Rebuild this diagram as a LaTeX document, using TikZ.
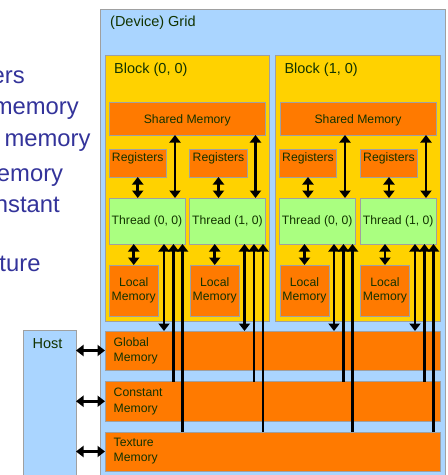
\documentclass[tikz,border=0pt]{standalone}
\usepackage{fontspec}
\setmainfont{Liberation Sans}
\usetikzlibrary{arrows.meta,calc}
\definecolor{GridBlue}{HTML}{AAD5FF}
\definecolor{BlockGold}{HTML}{FFD200}
\definecolor{MemOrange}{HTML}{FF7A00}
\definecolor{ThreadGreen}{HTML}{AAFF80}
\definecolor{Edge}{HTML}{A0A0A0}
\definecolor{LabelInk}{HTML}{123300}
\definecolor{SlideBlue}{HTML}{33339A}
\newcommand{\MemBox}[6]{%
  \node[membox,fill=#2,minimum width={(#5-#3)*1pt},minimum height={(#6-#4)*1pt}] (#1) at ({(#3+#5)/2},{(#4+#6)/2}) {};%
}

\begin{document}
\begin{tikzpicture}[x=1pt,y=-1pt,
  membox/.style={draw=Edge,line width=0.8pt,inner sep=0pt,outer sep=0pt},
  lbl/.style={text=LabelInk,inner sep=0pt,font=\fontsize{12.2}{14}\selectfont},
  title/.style={text=LabelInk,inner sep=0pt,font=\fontsize{14.5}{17}\selectfont},
  side/.style={text=SlideBlue,inner sep=0pt,font=\fontsize{23.8}{28}\selectfont},
  dbl/.style={line width=2.6pt,{Triangle[width=11pt,length=7.5pt]}-{Triangle[width=11pt,length=7.5pt]}},
  uparr/.style={line width=2.6pt,-{Triangle[width=11pt,length=7.5pt]}}]
\useasboundingbox (0,0) rectangle (448,475);
% slide text cut off at the left
\node[side,anchor=base east] (sideA) at (25,83) {ers};
\node[side,anchor=base east] (sideB) at (79,114.5) {memory};
\node[side,anchor=base east] (sideC) at (90.7,146.5) {memory};
\node[side,anchor=base east] (sideD) at (63.3,181) {emory};
\node[side,anchor=base east] (sideE) at (60,212.5) {nstant};
\node[side,anchor=base east] (sideF) at (40.7,271) {ture};
% device grid
\MemBox{grid}{GridBlue}{100}{9}{445}{478}
\MemBox{blockA}{BlockGold}{105}{55}{269}{321}
\MemBox{blockB}{BlockGold}{275.5}{55}{440}{321}
\MemBox{sharedA}{MemOrange}{109}{102}{265.5}{135}
\MemBox{sharedB}{MemOrange}{280}{102}{436}{135}
\MemBox{regAA}{MemOrange}{109}{149}{166.5}{177}
\MemBox{regAB}{MemOrange}{189.5}{149}{247.5}{177}
\MemBox{regBA}{MemOrange}{279.5}{149}{336.5}{177}
\MemBox{regBB}{MemOrange}{360.5}{149}{417.5}{177}
\MemBox{thrAA}{ThreadGreen}{109}{198}{185}{244}
\MemBox{thrAB}{ThreadGreen}{189.5}{198}{265.5}{244}
\MemBox{thrBA}{ThreadGreen}{279.5}{198}{355}{244}
\MemBox{thrBB}{ThreadGreen}{360.5}{198}{436}{244}
\MemBox{locAA}{MemOrange}{109}{265}{158.5}{316.5}
\MemBox{locAB}{MemOrange}{190}{265}{239.5}{316.5}
\MemBox{locBA}{MemOrange}{280}{265}{329}{316.5}
\MemBox{locBB}{MemOrange}{360.5}{265}{409.5}{316.5}
\MemBox{global}{MemOrange}{105}{331}{440}{370}
\MemBox{constant}{MemOrange}{105}{381.5}{440}{421}
\MemBox{texture}{MemOrange}{105}{432}{440}{471}
\MemBox{host}{GridBlue}{23.5}{330}{76}{478}
% labels
\node[title,anchor=west] (gridT) at (110,23) {(Device) Grid};
\node[title,anchor=west] (blockAT) at (114,69.3) {Block (0, 0)};
\node[title,anchor=west] (blockBT) at (284.3,69.3) {Block (1, 0)};
\node[title,anchor=west] (hostT) at (32.5,344) {Host};
\foreach \b in {A,B} {
  \node[lbl] (shared\b T) at ($(shared\b)+(0,1.5)$) {Shared Memory};
  \foreach \t/\i in {A/0,B/1} {
    \node[lbl] (reg\b\t T) at ($(reg\b\t.north)+(0,9)$) {Registers};
    \node[lbl] (thr\b\t T) at (thr\b\t) {Thread (\i, 0)};
    \node[lbl,align=center,font=\fontsize{12.2}{14}\selectfont] (loc\b\t T) at (loc\b\t) {Local\\Memory};
  }
}
\node[lbl,anchor=west,align=left,font=\fontsize{12.2}{15.3}\selectfont] (globalT) at (113.5,350.5) {Global\\Memory};
\node[lbl,anchor=west,align=left,font=\fontsize{12.2}{15.3}\selectfont] (constantT) at (113.5,401.5) {Constant\\Memory};
\node[lbl,anchor=west,align=left,font=\fontsize{12.2}{15.3}\selectfont] (textureT) at (113.5,451.3) {Texture\\Memory};
% connectors
\foreach \b in {A,B} {
  \foreach \t in {A,B} {
    \draw[dbl] (reg\b\t.south) -- (reg\b\t.south |- thr\b\t.north);
    \draw[dbl] (loc\b\t.north |- thr\b\t.south) -- (loc\b\t.north);
    \coordinate (sh\b\t) at ($(thr\b\t.north east)+(-10,0)$);
    \draw[dbl] (sh\b\t) -- (sh\b\t |- shared\b.south);
    \coordinate (gl\b\t) at ($(thr\b\t.south east)+(-21,0)$);
    \coordinate (co\b\t) at ($(thr\b\t.south east)+(-11.5,0)$);
    \coordinate (tx\b\t) at ($(thr\b\t.south east)+(-2.5,0)$);
    \draw[dbl] (gl\b\t) -- (gl\b\t |- global.north);
    \draw[uparr] (co\b\t |- constant.north) -- (co\b\t);
    \draw[uparr] (tx\b\t |- texture.north) -- (tx\b\t);
  }
}
\foreach \m in {global,constant,texture}
  \draw[dbl] (host.east |- \m.west) -- (\m.west);
\end{tikzpicture}
\end{document}
